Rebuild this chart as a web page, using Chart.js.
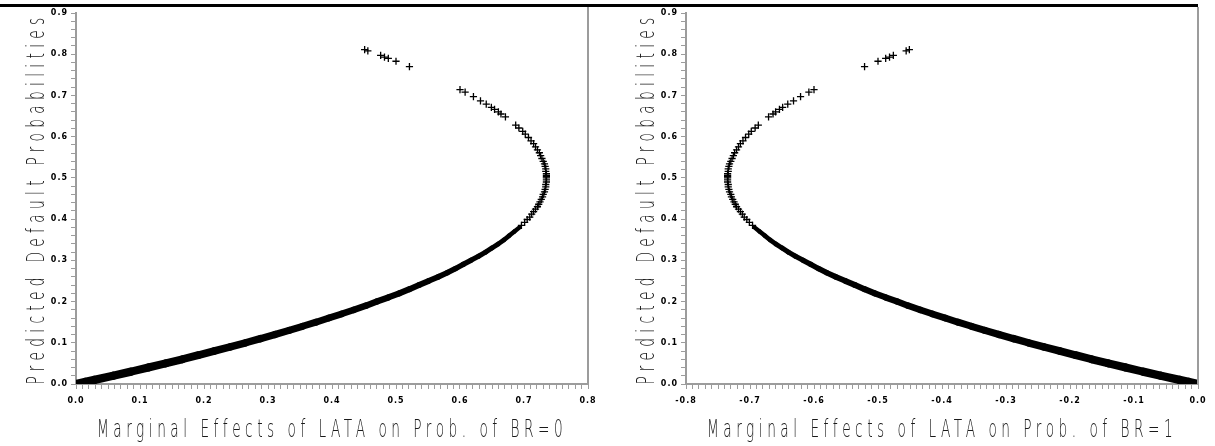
<!DOCTYPE html>
<html>
<head>
<meta charset="utf-8">
<script src="https://cdn.jsdelivr.net/npm/chart.js@4.4.0/dist/chart.umd.min.js"></script>
<style>
  body { margin: 0; background: #fff; width: 1215px; height: 446px; overflow: hidden; position: relative; }
  canvas { position: absolute; top: 0; }
  #topline { position: absolute; left: 0; top: 4px; width: 1198px; height: 3px; background: #000; }
</style>
</head>
<body>
<canvas id="leftChart" width="610" height="446" style="left:0"></canvas>
<canvas id="rightChart" width="605" height="446" style="left:610px"></canvas>
<div id="topline"></div>
<script>
// predicted default probabilities (same observations in both panels)
const denseProb = [0, 0.005, 0.01, 0.02, 0.03, 0.04, 0.05, 0.06, 0.07, 0.08, 0.09, 0.10, 0.11, 0.12,
  0.13, 0.14, 0.15, 0.16, 0.17, 0.18, 0.19, 0.20, 0.21, 0.22, 0.23, 0.24, 0.25, 0.26, 0.27, 0.28,
  0.29, 0.30, 0.31, 0.32, 0.33, 0.34, 0.35, 0.36, 0.37, 0.38]
const sparseProb = [0.385, 0.392, 0.399, 0.405, 0.412, 0.418, 0.424, 0.430, 0.436, 0.442, 0.448,
  0.454, 0.460, 0.466, 0.472, 0.478, 0.484, 0.490, 0.495, 0.500, 0.503, 0.506, 0.510, 0.516, 0.522,
  0.528, 0.534, 0.540, 0.547, 0.554, 0.561, 0.568, 0.575, 0.583, 0.590, 0.598, 0.606, 0.613, 0.621,
  0.628, 0.648, 0.655, 0.660, 0.666, 0.671, 0.679, 0.687, 0.697, 0.708, 0.714,
  0.770, 0.783, 0.790, 0.793, 0.797, 0.808, 0.811]

// marginal effects of LATA, BR=0 panel
const leftDenseME = [0, 0.015, 0.029, 0.058, 0.086, 0.113, 0.140, 0.166, 0.191, 0.216, 0.241, 0.265,
  0.288, 0.311, 0.333, 0.354, 0.375, 0.395, 0.415, 0.434, 0.453, 0.470, 0.488, 0.505, 0.521, 0.536,
  0.551, 0.566, 0.580, 0.593, 0.605, 0.617, 0.629, 0.640, 0.650, 0.660, 0.669, 0.677, 0.685, 0.693]
const leftSparseME = [0.696, 0.701, 0.705, 0.709, 0.712, 0.715, 0.718, 0.721, 0.723, 0.725, 0.727,
  0.729, 0.730, 0.732, 0.733, 0.734, 0.734, 0.735, 0.735, 0.735, 0.735, 0.735, 0.735, 0.734, 0.734,
  0.733, 0.732, 0.730, 0.728, 0.726, 0.724, 0.721, 0.718, 0.715, 0.711, 0.707, 0.702, 0.698, 0.692,
  0.687, 0.671, 0.664, 0.660, 0.654, 0.649, 0.641, 0.632, 0.621, 0.608, 0.600,
  0.521, 0.500, 0.488, 0.482, 0.476, 0.456, 0.451]

// marginal effects of LATA, BR=1 panel
const rightDenseME = [0, -0.015, -0.029, -0.058, -0.086, -0.113, -0.140, -0.166, -0.191, -0.216,
  -0.241, -0.265, -0.288, -0.311, -0.333, -0.354, -0.375, -0.395, -0.415, -0.434, -0.453, -0.470,
  -0.488, -0.505, -0.521, -0.536, -0.551, -0.566, -0.580, -0.593, -0.605, -0.617, -0.629, -0.640,
  -0.650, -0.660, -0.669, -0.677, -0.685, -0.693]
const rightSparseME = [-0.696, -0.701, -0.705, -0.709, -0.712, -0.715, -0.718, -0.721, -0.723,
  -0.725, -0.727, -0.729, -0.730, -0.732, -0.733, -0.734, -0.734, -0.735, -0.735, -0.735, -0.735,
  -0.735, -0.735, -0.734, -0.734, -0.733, -0.732, -0.730, -0.728, -0.726, -0.724, -0.721, -0.718,
  -0.715, -0.711, -0.707, -0.702, -0.698, -0.692, -0.687, -0.671, -0.664, -0.660, -0.654, -0.649,
  -0.641, -0.632, -0.621, -0.608, -0.600,
  -0.521, -0.500, -0.488, -0.482, -0.476, -0.456, -0.451]

const yTitle = "Predicted Default Probabilities"
const leftXTitle = "Marginal Effects of LATA on Prob. of BR=0"
const rightXTitle = "Marginal Effects of LATA on Prob. of BR=1"

const axisGray = "#9c9c9c"
const tickFont = { family: "'DejaVu Sans', sans-serif", size: 8, weight: "bold" }
const titleFont = "200 24px 'DejaVu Sans', sans-serif"

function toPoints(xs, ys) {
  return xs.map((x, i) => ({ x: x, y: ys[i] }))
}

function majorLabel(v) {
  const t = v * 10
  if (Math.abs(t - Math.round(t)) > 1e-6) return ""
  const r = Math.round(t) / 10
  return (Math.abs(r) < 1e-9 ? 0 : r).toFixed(1)
}

function spacedText(ctx, text, cx, cy, target, rot) {
  const sx = 0.57
  ctx.save()
  ctx.translate(cx, cy)
  ctx.rotate(rot)
  ctx.scale(sx, 1)
  ctx.font = titleFont
  ctx.letterSpacing = "0px"
  const w0 = ctx.measureText(text).width
  const sp = (target / sx - w0) / text.length
  ctx.letterSpacing = sp + "px"
  ctx.fillStyle = "#1a1a1a"
  ctx.textAlign = "left"
  ctx.textBaseline = "middle"
  ctx.fillText(text, -target / sx / 2, 0)
  ctx.restore()
}

const frameTitles = {
  id: "frameTitles",
  beforeDraw(chart) {
    // spaced-out tick lettering like the original
    chart.ctx.letterSpacing = "1px"
  },
  afterDraw(chart, args, opts) {
    const { ctx, chartArea } = chart
    ctx.letterSpacing = "0px"
    ctx.save()
    ctx.strokeStyle = axisGray
    ctx.lineWidth = 2
    ctx.beginPath()
    ctx.moveTo(chartArea.right, 7)
    ctx.lineTo(chartArea.right, chartArea.bottom + 1)
    ctx.stroke()
    ctx.restore()
    spacedText(ctx, opts.xTitle, (chartArea.left + chartArea.right) / 2, 431, 470, 0)
    spacedText(ctx, yTitle, 38, (chartArea.top + chartArea.bottom) / 2, 372, -Math.PI / 2)
  }
}

function makeChart(id, denseME, sparseME, xMin, xMax, xTitle, rightPad) {
  const ctx = document.getElementById(id).getContext("2d")
  return new Chart(ctx, {
    type: "scatter",
    data: {
      datasets: [
        {
          data: toPoints(denseME, denseProb),
          showLine: true,
          pointRadius: 0,
          borderColor: "#000",
          borderCapStyle: "round",
          borderJoinStyle: "round",
          borderWidth: 7,
          segment: {
            borderWidth: c => 8.5 - 11 * c.p0.parsed.y
          }
        },
        {
          data: toPoints(sparseME, sparseProb),
          showLine: false,
          pointStyle: "cross",
          pointRadius: 3.6,
          borderWidth: 1.3,
          borderColor: "#000",
          backgroundColor: "#000"
        }
      ]
    },
    options: {
      responsive: false,
      animation: false,
      layout: { padding: { left: 0, right: rightPad, top: 13, bottom: 0 } },
      plugins: {
        legend: { display: false },
        tooltip: { enabled: false },
        frameTitles: { xTitle: xTitle }
      },
      scales: {
        x: {
          type: "linear",
          min: xMin,
          max: xMax,
          afterFit: s => { s.height = 62; s.paddingLeft = 0; s.paddingRight = 0 },
          grid: { drawOnChartArea: false, drawTicks: true, tickLength: 5, color: axisGray, tickColor: axisGray },
          border: { display: true, color: axisGray, width: 2 },
          ticks: { stepSize: 0.01, autoSkip: false, maxRotation: 0, padding: 7, color: "#000", font: tickFont, callback: majorLabel }
        },
        y: {
          type: "linear",
          min: 0,
          max: 0.9,
          afterFit: s => { s.width = 76; s.paddingTop = 0; s.paddingBottom = 0 },
          grid: { drawOnChartArea: false, drawTicks: true, tickLength: 5, color: axisGray, tickColor: axisGray },
          border: { display: true, color: axisGray, width: 2 },
          ticks: { stepSize: 0.02, autoSkip: false, padding: 3, color: "#000", font: tickFont, callback: majorLabel }
        }
      }
    },
    plugins: [frameTitles]
  })
}

makeChart("leftChart", leftDenseME, leftSparseME, 0, 0.8, leftXTitle, 22)
makeChart("rightChart", rightDenseME, rightSparseME, -0.8, 0, rightXTitle, 17)
</script>
</body>
</html>
